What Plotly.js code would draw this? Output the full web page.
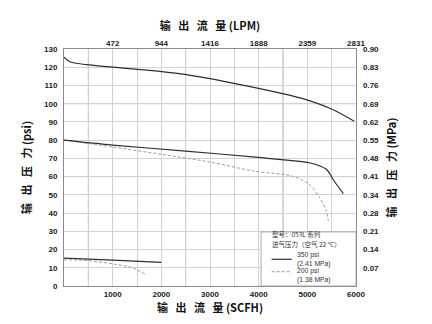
<!DOCTYPE html>
<html>
<head>
<meta charset="utf-8">
<script src="https://cdn.plot.ly/plotly-3.0.1.min.js"></script>
<style>html,body{margin:0;padding:0;background:#fff;}#chart{width:432px;height:324px;}</style>
</head>
<body>
<div id="chart"></div>
<script>
// ---- data ----
var topX = [0, 120, 465, 1967, 2514, 3463, 4494, 4973, 5519, 5963];
var topY = [125.5, 123, 121.4, 117.7, 115.9, 111.3, 105.5, 102.2, 96.8, 90.4];

var midSolidX = [0, 1000, 2500, 4000, 4630, 5040, 5390, 5550, 5740];
var midSolidY = [80, 77.3, 74, 70.5, 68.9, 67.6, 64, 57.6, 50.7];

var midDashX = [0, 1000, 2000, 3000, 3910, 4690, 5040, 5250, 5390, 5430];
var midDashY = [80, 76.3, 72.2, 68, 63, 60.3, 55.8, 48.5, 41.2, 35.7];

var lowSolidX = [0, 1000, 2000];
var lowSolidY = [15.3, 14.2, 13];

var lowDashX = [0, 500, 1010, 1390, 1490, 1660];
var lowDashY = [14.4, 13.9, 12.1, 10.2, 9, 6.6];

var scfhTicks = [1000, 2000, 3000, 4000, 5000, 6000];
var lpmLabels = ["472", "944", "1416", "1888", "2359", "2831"];
var psiTicks = [0, 10, 20, 30, 40, 50, 60, 70, 80, 90, 100, 110, 120, 130];
var mpaTicks = [10, 20, 30, 40, 50, 60, 70, 80, 90, 100, 110, 120, 130];
var mpaLabels = ["0.07", "0.14", "0.21", "0.28", "0.34", "0.41", "0.48", "0.55", "0.62", "0.69", "0.76", "0.83", "0.90"];

var xTitle = "输\u00a0\u00a0 出\u00a0\u00a0 流\u00a0\u00a0 量 (SCFH)";
var x2Title = "输\u00a0\u00a0 出\u00a0\u00a0 流\u00a0\u00a0 量 (LPM)";
var yTitle = "输\u00a0\u00a0 出\u00a0\u00a0 压\u00a0\u00a0 力 (psi)";
var y2Title = "输\u00a0\u00a0 出\u00a0\u00a0 压\u00a0\u00a0 力 (MPa)";
var legendHead1 = "型号：053L 系列";
var legendHead2 = "进气压力（空气 22 °C）";
var legendA1 = "350 psi", legendA2 = "(2.41 MPa)";
var legendB1 = "200 psi", legendB2 = "(1.38 MPa)";

// ---- styles ----
var solidLine = {color: '#2e2e2e', width: 1.2, shape: 'spline', smoothing: 0.8};
var dashLine = {color: '#9a9a9a', width: 1, dash: '3px,2px', shape: 'spline', smoothing: 0.8};
var tickFont = {family: 'Liberation Sans, Arial, sans-serif', size: 8, color: '#222', weight: 'bold'};
var titleFont = {family: 'Noto Sans CJK SC, sans-serif', size: 11, color: '#111', weight: 'bold'};
var gridC = '#d2d2d2';

var traces = [
  {x: topX, y: topY, mode: 'lines', line: solidLine, hoverinfo: 'skip'},
  {x: midDashX, y: midDashY, mode: 'lines', line: dashLine, hoverinfo: 'skip'},
  {x: midSolidX, y: midSolidY, mode: 'lines', line: solidLine, hoverinfo: 'skip'},
  {x: lowDashX, y: lowDashY, mode: 'lines', line: dashLine, hoverinfo: 'skip'},
  {x: lowSolidX, y: lowSolidY, mode: 'lines', line: solidLine, hoverinfo: 'skip'},
  {x: [0], y: [0], xaxis: 'x2', yaxis: 'y2', mode: 'markers', marker: {opacity: 0}, hoverinfo: 'skip'}
];

var darkGrid = [];
[500, 2500, 4500].forEach(function (v) {
  darkGrid.push({type: 'line', xref: 'x', yref: 'paper', x0: v, x1: v, y0: 0, y1: 1, layer: 'below', line: {color: '#b4b4b4', width: 1}});
});
[20, 60, 100].forEach(function (v) {
  darkGrid.push({type: 'line', xref: 'paper', yref: 'y', x0: 0, x1: 1, y0: v, y1: v, layer: 'below', line: {color: '#b4b4b4', width: 1}});
});

var legendBox = {type: 'rect', xref: 'paper', yref: 'paper', x0: 0.675, x1: 1, y0: 0, y1: 0.228, fillcolor: '#fff', line: {color: '#999', width: 0.8}, layer: 'above'};
var sampleA = {type: 'line', xref: 'paper', yref: 'paper', x0: 0.711, x1: 0.78, y0: 0.1127, y1: 0.1127, line: {color: '#2e2e2e', width: 1.2}};
var sampleB = {type: 'line', xref: 'paper', yref: 'paper', x0: 0.711, x1: 0.78, y0: 0.0603, y1: 0.0603, line: {color: '#9a9a9a', width: 1, dash: '3px,2px'}};

var cjkFont = {family: 'Noto Sans CJK SC, sans-serif', size: 6.5, color: '#333'};
var latFont = {family: 'Liberation Sans, Arial, sans-serif', size: 6.8, color: '#333'};
function legText(t, x, y, f) {
  return {text: t, xref: 'paper', yref: 'paper', x: x, y: y, xanchor: 'left', yanchor: 'middle', align: 'left', showarrow: false, font: f, borderpad: 0};
}

var layout = {
  width: 432, height: 324,
  margin: {l: 64, r: 76, t: 49, b: 38},
  paper_bgcolor: '#fff', plot_bgcolor: '#fff',
  showlegend: false,
  xaxis: {
    range: [0, 6000], tickmode: 'array', tickvals: scfhTicks, ticks: '',
    showgrid: true, gridcolor: gridC, gridwidth: 1,
    minor: {dtick: 500, tick0: 0, showgrid: true, gridcolor: gridC, gridwidth: 1},
    zeroline: false, showline: true, linecolor: '#8a8a8a', linewidth: 1, mirror: true,
    tickfont: tickFont, ticklabelstandoff: 0,
    title: {text: xTitle, font: titleFont, standoff: 6}
  },
  xaxis2: {
    overlaying: 'x', side: 'top', range: [0, 6000], tickmode: 'array', tickvals: scfhTicks, ticktext: lpmLabels,
    ticks: '', showgrid: false, zeroline: false, showline: false, tickfont: tickFont,
    title: {text: x2Title, font: titleFont, standoff: 6}
  },
  yaxis: {
    range: [0, 130], tickmode: 'array', tickvals: psiTicks, ticks: '',
    showgrid: true, gridcolor: gridC, gridwidth: 1,
    zeroline: false, showline: true, linecolor: '#8a8a8a', linewidth: 1, mirror: true,
    tickfont: tickFont, ticklabelstandoff: 4,
    title: {text: yTitle, font: titleFont, standoff: 10}
  },
  yaxis2: {
    overlaying: 'y', side: 'right', range: [0, 130], tickmode: 'array', tickvals: mpaTicks, ticktext: mpaLabels,
    ticks: '', showgrid: false, zeroline: false, showline: false, tickfont: tickFont, ticklabelstandoff: 6,
    title: {text: y2Title, font: titleFont, standoff: 10}
  },
  shapes: darkGrid.concat([legendBox, sampleA, sampleB]),
  annotations: [
    legText(legendHead1, 0.708, 0.2194, cjkFont),
    legText(legendHead2, 0.708, 0.1793, cjkFont),
    legText(legendA1, 0.795, 0.1287, latFont),
    legText(legendA2, 0.795, 0.0949, latFont),
    legText(legendB1, 0.795, 0.0612, latFont),
    legText(legendB2, 0.795, 0.0274, latFont)
  ]
};

Plotly.newPlot('chart', traces, layout, {staticPlot: true, displayModeBar: false});
</script>
</body>
</html>
